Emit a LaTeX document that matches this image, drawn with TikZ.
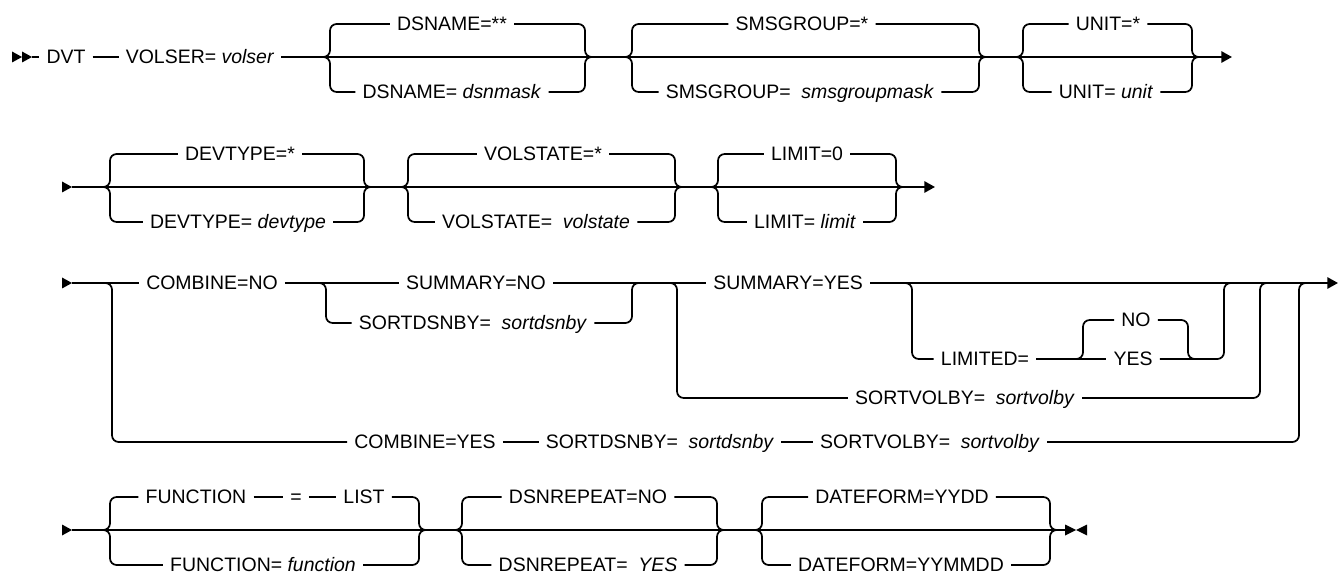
\documentclass[tikz,border=0pt]{standalone}
\usepackage{fontspec}
\setmainfont{Liberation Sans}
\usetikzlibrary{arrows.meta,calc}

\tikzset{
  rail/.style={line width=1.3pt, rounded corners=5pt},
  kw/.style={font=\fontsize{14.6}{16}\selectfont, inner xsep=4.8pt, inner ysep=0pt,
    text height=10.4pt, text depth=0pt},
  tip/.style={-{Triangle[length=8pt,width=8.5pt]}},
}
\newcommand{\railfork}[2]{\draw[rail] (#1) -- ++(8,0) |- (#2.west);}
\newcommand{\railjoin}[2]{\draw[rail] (#1.east) -| ($(#2)+(-8,0)$) -- (#2);}
\newcommand{\railhead}[1]{\fill (#1) -- ++(-10,-5.5) -- ++(0,11) -- cycle;}
\newcommand{\wsp}{\hspace{0.55em}}

\begin{document}
\begin{tikzpicture}[x=0.75pt, y=-0.75pt, line width=1.3pt]
  \useasboundingbox (0,0) rectangle (1340,581);

  % row 1
  \coordinate (s1a) at (22,57);
  \coordinate (s1) at (32,57);
  \node[kw] (dvt) at (66,57) {DVT};
  \node[kw] (volser) at (200,57) {VOLSER= \textit{volser}};
  \node[kw] (dsnA) at (452,24) {DSNAME=**};
  \node[kw] (dsnB) at (452,92) {DSNAME= \textit{dsnmask}};
  \node[kw] (smsA) at (802,24) {SMSGROUP=*};
  \node[kw] (smsB) at (800,92) {SMSGROUP=\wsp\textit{smsgroupmask}};
  \node[kw] (unitA) at (1108,24) {UNIT=*};
  \node[kw] (unitB) at (1106,92) {UNIT= \textit{unit}};
  \coordinate (f11) at (322,57);  \coordinate (j11) at (593,57);
  \coordinate (f12) at (624,57);  \coordinate (j12) at (987,57);
  \coordinate (f13) at (1015,57); \coordinate (j13) at (1200,57);
  \coordinate (e1) at (1232,57);

  \railhead{s1a} \railhead{s1}
  \draw[rail] (s1) -- (dvt);
  \draw[rail] (dvt) -- (volser);
  \draw[rail,tip] (volser) -- (e1);
  \railfork{f11}{dsnA} \railjoin{dsnA}{j11}
  \railfork{f11}{dsnB} \railjoin{dsnB}{j11}
  \railfork{f12}{smsA} \railjoin{smsA}{j12}
  \railfork{f12}{smsB} \railjoin{smsB}{j12}
  \railfork{f13}{unitA} \railjoin{unitA}{j13}
  \railfork{f13}{unitB} \railjoin{unitB}{j13}

  % row 2
  \coordinate (s2) at (72,187);
  \node[kw] (devA) at (240,154) {DEVTYPE=*};
  \node[kw] (devB) at (238,222) {DEVTYPE= \textit{devtype}};
  \node[kw] (volA) at (543,154) {VOLSTATE=*};
  \node[kw] (volB) at (536,222) {VOLSTATE=\wsp\textit{volstate}};
  \node[kw] (limA) at (807,154) {LIMIT=0};
  \node[kw] (limB) at (805,222) {LIMIT= \textit{limit}};
  \coordinate (f21) at (102,187); \coordinate (j21) at (372,187);
  \coordinate (f22) at (400,187); \coordinate (j22) at (683,187);
  \coordinate (f23) at (710,187); \coordinate (j23) at (904,187);
  \coordinate (e2) at (935,187);

  \railhead{s2}
  \draw[rail,tip] (s2) -- (e2);
  \railfork{f21}{devA} \railjoin{devA}{j21}
  \railfork{f21}{devB} \railjoin{devB}{j21}
  \railfork{f22}{volA} \railjoin{volA}{j22}
  \railfork{f22}{volB} \railjoin{volB}{j22}
  \railfork{f23}{limA} \railjoin{limA}{j23}
  \railfork{f23}{limB} \railjoin{limB}{j23}

  % row 3
  \coordinate (s3) at (72,283);
  \node[kw] (cno) at (212,283) {COMBINE=NO};
  \node[kw] (sno) at (476,283) {SUMMARY=NO};
  \node[kw] (sdsn1) at (473,323) {SORTDSNBY=\wsp\textit{sortdsnby}};
  \node[kw] (syes) at (788,283) {SUMMARY=YES};
  \node[kw] (lim) at (985,359) {LIMITED=};
  \node[kw] (no) at (1136,320) {NO};
  \node[kw] (yes) at (1133,359) {YES};
  \node[kw] (svol1) at (965,398) {SORTVOLBY=\wsp\textit{sortvolby}};
  \node[kw] (cyes) at (425,442) {COMBINE=YES};
  \node[kw] (sdsn2) at (660,442) {SORTDSNBY=\wsp\textit{sortdsnby}};
  \node[kw] (svol2) at (930,442) {SORTVOLBY=\wsp\textit{sortvolby}};
  \coordinate (fc) at (104,283);  \coordinate (jc) at (1307,283);
  \coordinate (fs) at (318,283);  \coordinate (js) at (640,283);
  \coordinate (fv) at (669,283);  \coordinate (jv) at (1268,283);
  \coordinate (fl) at (904,283);  \coordinate (jl) at (1232,283);
  \coordinate (fn) at (1075,359); \coordinate (jn) at (1196,359);
  \coordinate (e3) at (1338,283);

  \railhead{s3}
  \draw[rail] (s3) -- (cno);
  \draw[rail] (cno) -- (sno);
  \draw[rail] (sno) -- (syes);
  \draw[rail,tip] (syes) -- (e3);
  \railfork{fs}{sdsn1} \railjoin{sdsn1}{js}
  \railfork{fv}{svol1} \railjoin{svol1}{jv}
  \railfork{fl}{lim}
  \draw[rail] (lim) -- (yes);
  \railjoin{yes}{jl}
  \railfork{fn}{no} \railjoin{no}{jn}
  \railfork{fc}{cyes}
  \draw[rail] (cyes) -- (sdsn2);
  \draw[rail] (sdsn2) -- (svol2);
  \railjoin{svol2}{jc}

  % row 4
  \coordinate (s4) at (72,530);
  \node[kw] (fnc) at (196,497) {FUNCTION};
  \node[kw] (eq) at (296,497) {=};
  \node[kw] (list) at (364,497) {LIST};
  \node[kw] (fncB) at (263,565) {FUNCTION= \textit{function}};
  \node[kw] (dsrA) at (588,497) {DSNREPEAT=NO};
  \node[kw] (dsrB) at (588,565) {DSNREPEAT=\wsp\textit{YES}};
  \node[kw] (dfA) at (902,497) {DATEFORM=YYDD};
  \node[kw] (dfB) at (901,565) {DATEFORM=YYMMDD};
  \coordinate (f41) at (102,530); \coordinate (j41) at (427,530);
  \coordinate (f42) at (454,530); \coordinate (j42) at (725,530);
  \coordinate (f43) at (754,530); \coordinate (j43) at (1058,530);
  \coordinate (e4) at (1065,530);

  \railhead{s4}
  \draw[rail] (s4) -- (e4);
  \railfork{f41}{fnc}
  \draw[rail] (fnc) -- (eq);
  \draw[rail] (eq) -- (list);
  \railjoin{list}{j41}
  \railfork{f41}{fncB} \railjoin{fncB}{j41}
  \railfork{f42}{dsrA} \railjoin{dsrA}{j42}
  \railfork{f42}{dsrB} \railjoin{dsrB}{j42}
  \railfork{f43}{dfA} \railjoin{dfA}{j43}
  \railfork{f43}{dfB} \railjoin{dfB}{j43}
  % end mark
  \fill ($(e4)+(0,-5.5)$) -- ++(11,5.5) -- ++(-11,5.5) -- cycle;
  \fill ($(e4)+(22,-5.5)$) -- ++(-11,5.5) -- ++(11,5.5) -- cycle;
\end{tikzpicture}
\end{document}
